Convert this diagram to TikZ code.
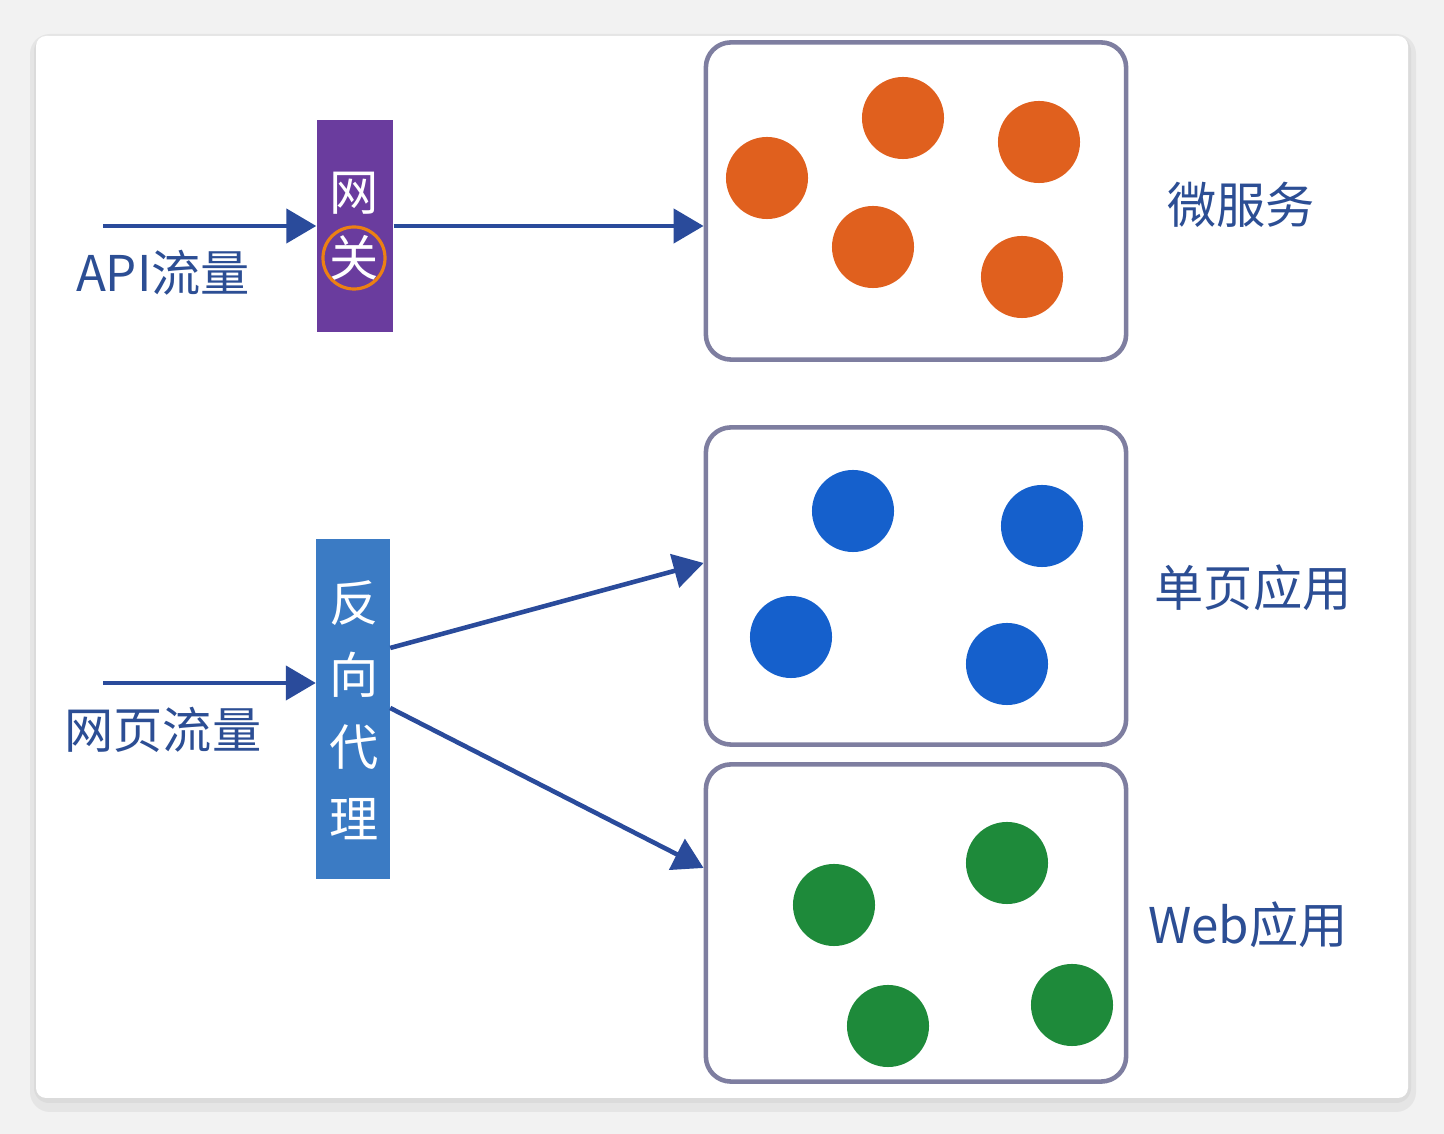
\documentclass[tikz,border=0pt]{standalone}
\usepackage{fontspec}
\setmainfont{Noto Sans CJK SC}
\usetikzlibrary{arrows.meta}

\definecolor{txtblue}{HTML}{2C4E94}
\definecolor{arrowblue}{HTML}{2A4B9B}
\definecolor{boxgray}{HTML}{7E7EA0}
\definecolor{gwpurple}{HTML}{6A3C9E}
\definecolor{proxyblue}{HTML}{3B7BC4}
\definecolor{dotorange}{HTML}{E0601E}
\definecolor{dotblue}{HTML}{1560CC}
\definecolor{dotgreen}{HTML}{1E8A3A}

\tikzset{
  flow/.style={-{Triangle[length=0.3cm,width=0.34cm]}, draw=arrowblue, line width=1.3pt},
  svcbox/.style={draw=boxgray, line width=1.3pt, rounded corners=0.25cm,
                 minimum width=4.2cm, minimum height=3.17cm},
  dot/.style={circle, minimum size=0.82cm, inner sep=0pt},
  tag/.style={text=txtblue, font=\fontsize{14}{16}\selectfont},
  bar/.style={text=white, font=\fontsize{14}{16}\selectfont, inner sep=0pt}
}

\begin{document}
\begin{tikzpicture}[x=0.01cm, y=-0.01cm]
  % 背景
  \useasboundingbox (0,0) rectangle (1444,1134);
  \fill[black!5] (0,0) rectangle (1444,1134);
  \fill[black!10, rounded corners=0.2cm] (30,34) rectangle (1416,1112);
  \fill[black!14, rounded corners=0.15cm] (34,36) rectangle (1411,1103);
  \fill[white, rounded corners=0.1cm] (36,36) rectangle (1408,1098);

  % 三个服务框
  \node[svcbox] (micro) at (916,201) {};
  \node[svcbox] (spa) at (916,586) {};
  \node[svcbox] (webapp) at (916,923) {};

  % 网关与反向代理
  \node[fill=gwpurple, minimum width=0.76cm, minimum height=2.11cm, inner sep=0pt] (gw) at (355,226) {};
  \node[bar] (gwa) at (354,193) {网};
  \node[bar] (gwb) at (354,258) {关};
  \draw[orange!70!brown, line width=0.9pt] (gwb) circle (0.31cm);
  \node[fill=proxyblue, minimum width=0.73cm, minimum height=3.39cm, inner sep=0pt] (proxy) at (353,709) {};
  \foreach \ch [count=\i] in {反,向,代,理}
    \node[bar] (px\i) at (354,531+72*\i) {\ch};

  % 流量入口
  \coordinate (apiin) at (103,226);
  \coordinate (webin) at (103,683);
  \node[tag] (apilbl) at (163,273) {API流量};
  \node[tag] (weblbl) at (163,730) {网页流量};

  % 箭头
  \draw[flow] (apiin) -- (apiin -| gw.west);
  \draw[flow] (gw.east |- apiin) -- (apiin -| micro.west);
  \draw[flow] (webin) -- (webin -| proxy.west);
  \draw[flow] ([yshift=0.61cm]proxy.east) -- ([yshift=0.23cm]spa.west);
  \draw[flow] ([yshift=0.01cm]proxy.east) -- ([yshift=0.55cm]webapp.west);

  % 微服务
  \foreach \x/\y in {767/178, 903/118, 1039/142, 873/247, 1022/277}
    \node[dot, fill=dotorange] at (\x,\y) {};
  % 单页应用
  \foreach \x/\y in {853/511, 1042/526, 791/637, 1007/664}
    \node[dot, fill=dotblue] at (\x,\y) {};
  % Web应用
  \foreach \x/\y in {1007/863, 834/905, 1072/1005, 888/1026}
    \node[dot, fill=dotgreen] at (\x,\y) {};

  % 右侧标签
  \node[tag] (microlbl) at (1241,205) {微服务};
  \node[tag] (spalbl) at (1253,588) {单页应用};
  \node[tag] (weblbl2) at (1248,925) {Web应用};
\end{tikzpicture}
\end{document}
